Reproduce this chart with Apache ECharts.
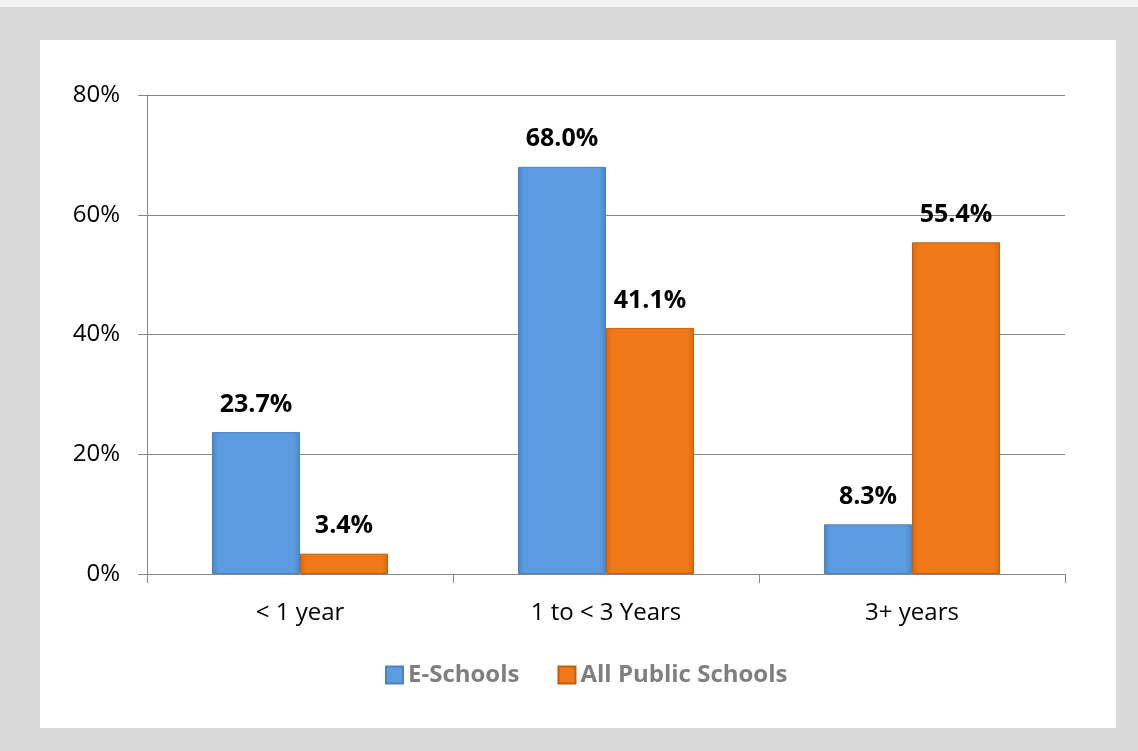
<!DOCTYPE html>
<html><head><meta charset="utf-8">
<script src="https://cdn.jsdelivr.net/npm/echarts@6/dist/echarts.min.js"></script>
<style>html,body{margin:0;padding:0;background:#d9d9d9;}#c{width:1138px;height:751px;}</style>
</head><body><div id="c"></div>
<script>
const categories = ['< 1 year', '1 to < 3 Years', '3+ years'];
const eSchools = [23.7, 68.0, 8.3];
const allPublic = [3.4, 41.1, 55.4];
const seriesNames = ['E-Schools', 'All Public Schools'];
const yTicks = [0, 20, 40, 60, 80];

const chart = echarts.init(document.getElementById('c'));
const font = '"Open Sans", "DejaVu Sans", sans-serif';
function grad(mid, edge){
  return new echarts.graphic.LinearGradient(0,0,1,0,[
    {offset:0,color:edge},{offset:0.07,color:mid},{offset:0.93,color:mid},{offset:1,color:edge}]);
}
const labelStyle = {show: true, position: 'top', distance: 15, formatter: p => p.value.toFixed(1) + '%',
  fontFamily: font, fontSize: 25, fontWeight: 'bold', color: '#000'};
chart.setOption({
  backgroundColor: 'transparent',
  animation: false,
  graphic: [
    {type:'rect', z:-10, shape:{x:0,y:0,width:1138,height:7}, style:{fill:'#f3f3f3'}},
    {type:'rect', z:-10, shape:{x:40,y:40,width:1076,height:688}, style:{fill:'#ffffff'}}
  ],
  grid: {left:147, right:73, top:95, bottom:177},
  legend: {
    data: seriesNames, left: 380, top: 658, itemWidth: 17, itemHeight: 17, itemGap: 38,
    icon: 'rect',
    textStyle: {fontFamily: font, fontSize: 24, fontWeight: 'bold', color: '#7f7f7f'}
  },
  xAxis: {
    type: 'category', data: categories,
    axisLine: {lineStyle: {color: '#868686', width: 1}},
    axisTick: {show: true, length: 9, lineStyle: {color: '#868686'}},
    axisLabel: {fontFamily: font, fontSize: 24, color: '#000', margin: 27}
  },
  yAxis: {
    type: 'value', min: 0, max: 80, interval: 20,
    axisLine: {show: true, lineStyle: {color: '#868686'}},
    axisTick: {show: true, length: 9, lineStyle: {color: '#868686'}},
    splitLine: {lineStyle: {color: '#868686', width: 1}},
    axisLabel: {fontFamily: font, fontSize: 24, color: '#000', margin: 27,
      formatter: v => yTicks.includes(v) ? v + '%' : ''}
  },
  series: [
    {name: seriesNames[0], type: 'bar', data: eSchools, barGap: '0%', barCategoryGap: '42.5%',
     itemStyle: {color: grad('#5b9be0', '#4a86c8'), borderColor: '#4f81bd', borderWidth: 1},
     label: labelStyle},
    {name: seriesNames[1], type: 'bar', data: allPublic,
     itemStyle: {color: grad('#f07818', '#d86a10'), borderColor: '#c0600c', borderWidth: 1},
     label: labelStyle}
  ]
});
</script></body></html>
